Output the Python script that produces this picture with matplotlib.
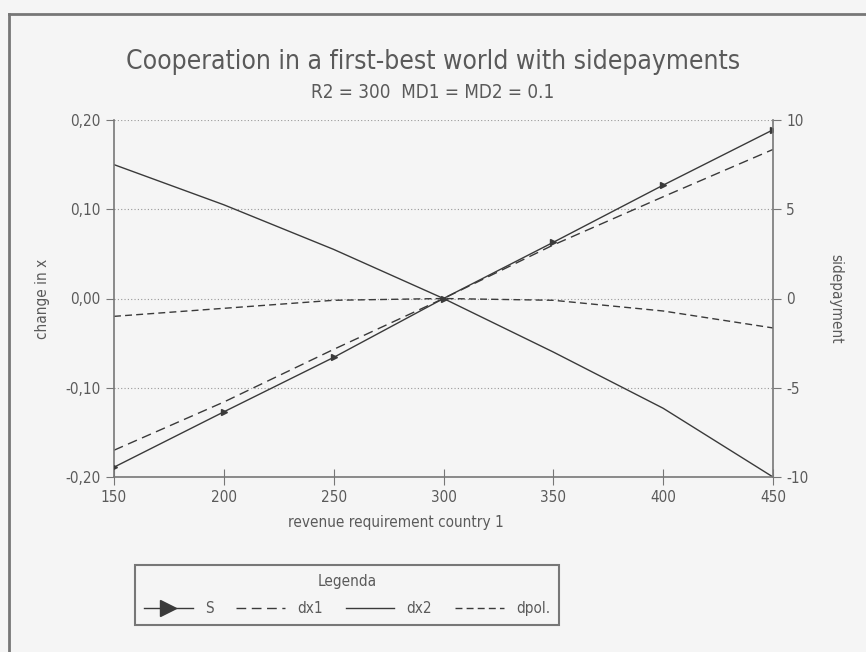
import matplotlib
matplotlib.use("Agg")
import matplotlib.pyplot as plt
from matplotlib.lines import Line2D
from matplotlib.ticker import FuncFormatter

# ---- data ----
revenue = [150, 200, 250, 300, 350, 400, 450]
S = [-9.45, -6.35, -3.3, 0.0, 3.15, 6.35, 9.45]          # sidepayment (right axis)
dx1 = [-0.17, -0.116, -0.057, 0.0, 0.06, 0.114, 0.167]    # change in x (left axis)
dx2 = [0.15, 0.105, 0.055, 0.0, -0.06, -0.123, -0.2]
dpol = [-0.02, -0.011, -0.002, 0.0, -0.002, -0.014, -0.033]
left_ticks = [-0.20, -0.10, 0.00, 0.10, 0.20]
right_ticks = [-10, -5, 0, 5, 10]
x_ticks = [150, 200, 250, 300, 350, 400, 450]

title = "Cooperation in a first-best world with sidepayments"
subtitle = "R2 = 300  MD1 = MD2 = 0.1"

plt.rcParams['font.family'] = ["DejaVu Sans"]
plt.rcParams['font.stretch'] = "condensed"
plt.rcParams['axes.unicode_minus'] = False
BG = "#f5f5f5"
LC = "#3a3a3a"
TC = "#5a5a5a"

fig = plt.figure(figsize=(8.66, 6.52), dpi=100, facecolor=BG)
ax = fig.add_axes([114/866, 1-477/652, (773-114)/866, (477-120)/652])
ax.set_facecolor(BG)
ax2 = ax.twinx()

l_dx1, = ax.plot(revenue, dx1, color=LC, lw=1.0, ls=(0, (7, 4)), label="dx1")
l_dx2, = ax.plot(revenue, dx2, color=LC, lw=1.0, ls="-", label="dx2")
l_dpol, = ax.plot(revenue, dpol, color=LC, lw=1.0, ls=(0, (5, 3)), label="dpol.")
l_S, = ax2.plot(revenue, S, color=LC, lw=1.0, marker=">", ms=4, label="S")

ax.set_xlim(150, 450)
ax.set_ylim(-0.2, 0.2)
ax2.set_ylim(-10, 10)
ax.set_xticks(x_ticks)
ax.set_yticks(left_ticks)
ax2.set_yticks(right_ticks)
ax.yaxis.set_major_formatter(FuncFormatter(lambda v, p: f"{v:.2f}".replace(".", ",").replace("-0,00", "0,00")))

ax.grid(axis="y", color="#999999", ls=(0, (1, 2)), lw=0.8)
for a in (ax, ax2):
    a.spines["top"].set_visible(False)
    for s in ("left", "right", "bottom"):
        a.spines[s].set_color("#777777")
        a.spines[s].set_linewidth(1.2)
ax.spines["right"].set_visible(False)
ax2.spines["left"].set_visible(False)
ax2.spines["bottom"].set_visible(False)

ax.tick_params(axis="y", direction="out", length=6, color="#777777", labelcolor=TC, labelsize=11)
ax2.tick_params(axis="y", direction="out", length=6, color="#777777", labelcolor=TC, labelsize=11)
ax.tick_params(axis="x", direction="inout", length=12, color="#777777", labelcolor=TC, labelsize=11)

ax.set_xlabel("revenue requirement country 1", color=TC, fontsize=11)
ax.xaxis.set_label_coords((396-114)/659, -(515-477)/357)
ax.set_ylabel("change in x", color=TC, fontsize=11)
ax.yaxis.set_label_coords(-(114-50)/659, 0.5)
ax2.set_ylabel("sidepayment", color=TC, fontsize=11, rotation=270, va="center")
ax2.yaxis.set_label_coords(1 + (836-773)/659, 0.5)

fig.text(0.5, 1-62/652, title, ha="center", va="center", color=TC, fontsize=19)
fig.text(0.5, 1-93/652, subtitle, ha="center", va="center", color=TC, fontsize=13.5)

leg = fig.legend(handles=[l_S, l_dx1, l_dx2, l_dpol], labels=["S", "dx1", "dx2", "dpol."],
                 title="Legenda", ncol=4, loc="center",
                 bbox_to_anchor=(127/866, 1-628/652, (567-127)/866, 66/652),
                 mode="expand", fancybox=False, framealpha=1, facecolor=BG,
                 edgecolor="#777777", markerscale=3, fontsize=11, title_fontsize=11,
                 handlelength=3.2, borderpad=0.6, labelspacing=0.8, labelcolor=TC)
leg.get_frame().set_linewidth(1.5)
leg.get_title().set_color(TC)

fig.add_artist(Line2D([9/866, 9/866], [0, 1-14/652], transform=fig.transFigure, color="#777777", lw=2))
fig.add_artist(Line2D([9/866, 1], [1-14/652, 1-14/652], transform=fig.transFigure, color="#777777", lw=2))

fig.savefig("out.png", dpi=100, facecolor=BG)
